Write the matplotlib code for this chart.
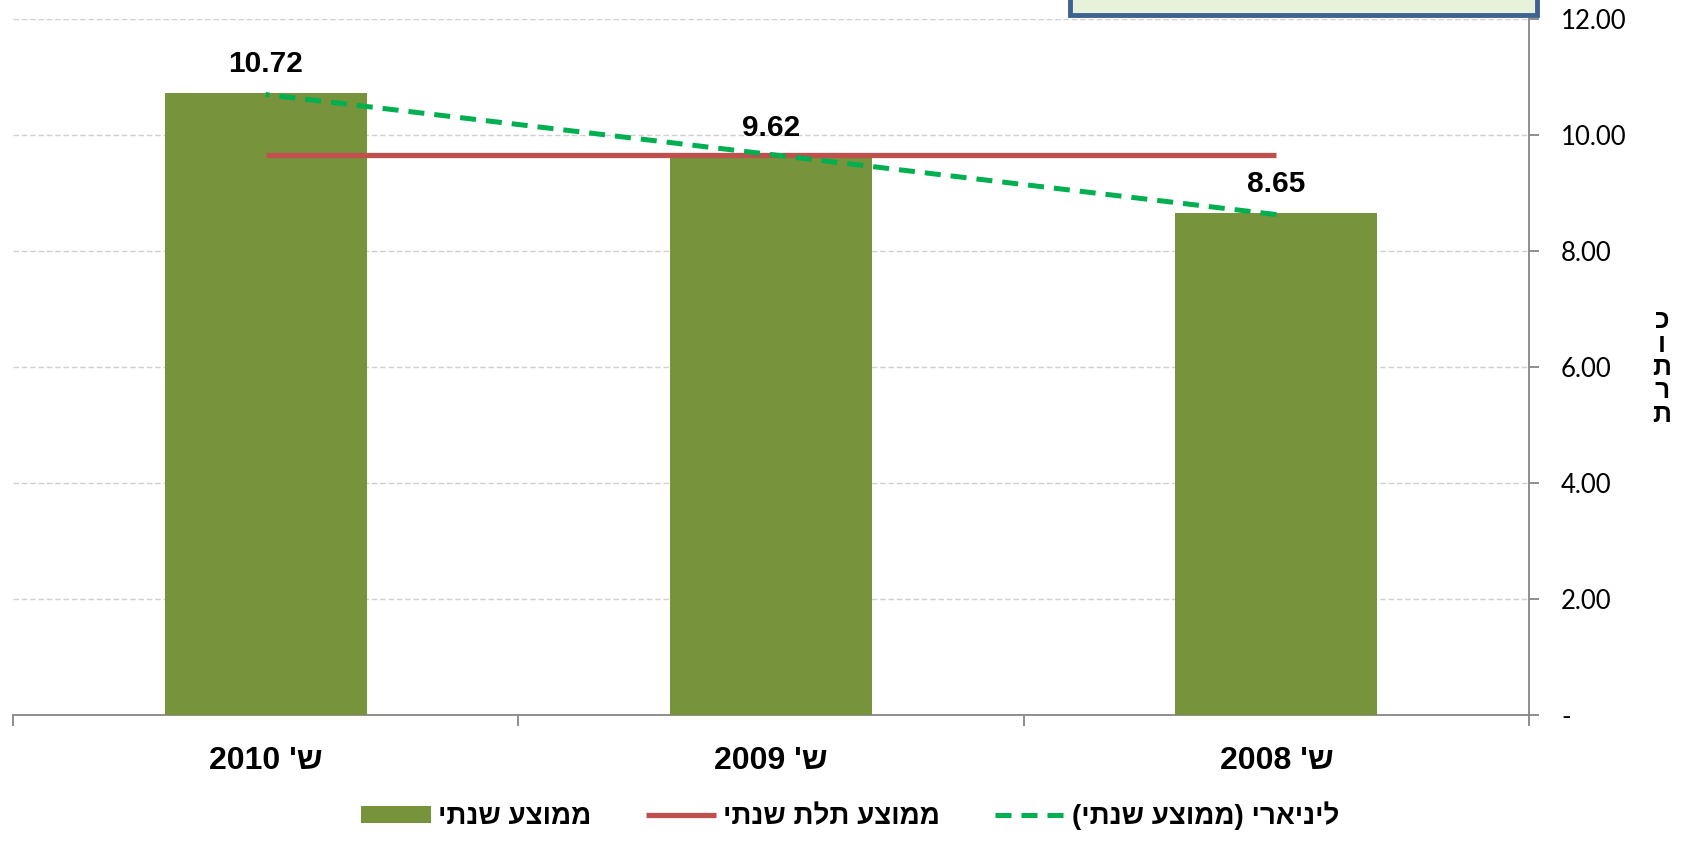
import matplotlib
matplotlib.use("Agg")
import matplotlib.pyplot as plt
import numpy as np
from matplotlib.patches import Rectangle
from matplotlib.ticker import FuncFormatter

# ---- data (chronological) ----
years = ["2008", "2009", "2010"]
xlabels = ["2008 'ש", "2009 'ש", "2010 'ש"]          # visual order of "ש' 2008" etc.
annual = [8.65, 9.62, 10.72]
three_year = [9.66, 9.66, 9.66]
series_names = ["יתנש עצוממ", "יתנש תלת עצוממ", "(יתנש עצוממ) יראיניל"]
ylabel_chars = ["כ", "ו", "ת", "ר", "ת"]
yticks = [0, 2, 4, 6, 8, 10, 12]

FONT = ["Liberation Sans", "DejaVu Sans"]
TICKFONT = ["Lato", "DejaVu Sans"]
plt.rcParams['font.family'] = FONT

BAR_C = "#77933C"
RED_C = "#C0504D"
GREEN_C = "#00B050"
AXIS_C = "#868686"

W, H = 1691, 843
fig = plt.figure(figsize=(W / 100, H / 100), dpi=100)
ax = fig.add_axes([13 / W, 1 - 715 / H, (1529 - 13) / W, (715 - 19) / H])

x = np.arange(len(years))
bars = ax.bar(x, annual, width=0.4, color=BAR_C, label=series_names[0], zorder=3)
red, = ax.plot(x, three_year, color=RED_C, lw=3.8, solid_capstyle='butt', label=series_names[1], zorder=4)

# linear trend of the annual series
coef = np.polyfit(x, annual, 1)
trend = np.polyval(coef, x)
green, = ax.plot(x, trend, color=GREEN_C, lw=3.6, linestyle=(0, (3.2, 2.0)), label=series_names[2], zorder=5)

for xi, v in zip(x, annual):
    ax.annotate(f"{v:.2f}", (xi, v), xytext=(0, 21), textcoords="offset points",
                ha="center", va="center", fontsize=21.5, fontweight="bold", color="black")

ax.set_xlim(-0.5, 2.5)
ax.invert_xaxis()
ax.set_ylim(0, 12)

ax.set_xticks(x)
ax.set_xticklabels(xlabels, fontsize=23, fontweight="bold")
ax.set_xticks([-0.5, 0.5, 1.5, 2.5], minor=True)
ax.tick_params(axis="x", which="major", length=0, pad=22)
ax.tick_params(axis="x", which="minor", length=8, color=AXIS_C, width=1.3)

ax.yaxis.tick_right()
ax.set_yticks(yticks)
ax.yaxis.set_major_formatter(FuncFormatter(lambda v, p: "-" if v == 0 else f"{v:.2f}"))
ax.tick_params(axis="y", length=7, color=AXIS_C, width=1.3, pad=16, labelsize=18.5)
for lab in ax.get_yticklabels():
    lab.set_family(TICKFONT)

ax.yaxis.grid(True, linestyle=(0, (4, 2)), color="#D0D0D0", lw=1.0, zorder=0)
ax.set_axisbelow(True)

for s in ["top", "left"]:
    ax.spines[s].set_visible(False)
for s in ["right", "bottom"]:
    ax.spines[s].set_color(AXIS_C)
    ax.spines[s].set_linewidth(1.3)

# stacked vertical axis title
fig.text(1662 / W, 1 - 368 / H, "\n".join(ylabel_chars), rotation=0, fontsize=19,
         fontweight="bold", va="center", ha="center", linespacing=0.97)

leg = fig.legend([bars, red, green], series_names, loc="center",
                 bbox_to_anchor=((352 + 1348) / 2 / W, 1 - 816 / H),
                 ncol=3, frameon=False, prop={"weight": "bold", "size": 20},
                 handlelength=2.5, handleheight=0.6, handletextpad=0.25, columnspacing=2.0)

# text box cut off at the top
box = Rectangle((1070 / W, 1 - 15 / H), (1537 - 1070) / W, 60 / H, transform=fig.transFigure,
                facecolor="#E6F2D9", edgecolor="#3F6291", lw=3.5, clip_on=False, zorder=10)
fig.patches.append(box)

fig.savefig("out.png", dpi=100)
